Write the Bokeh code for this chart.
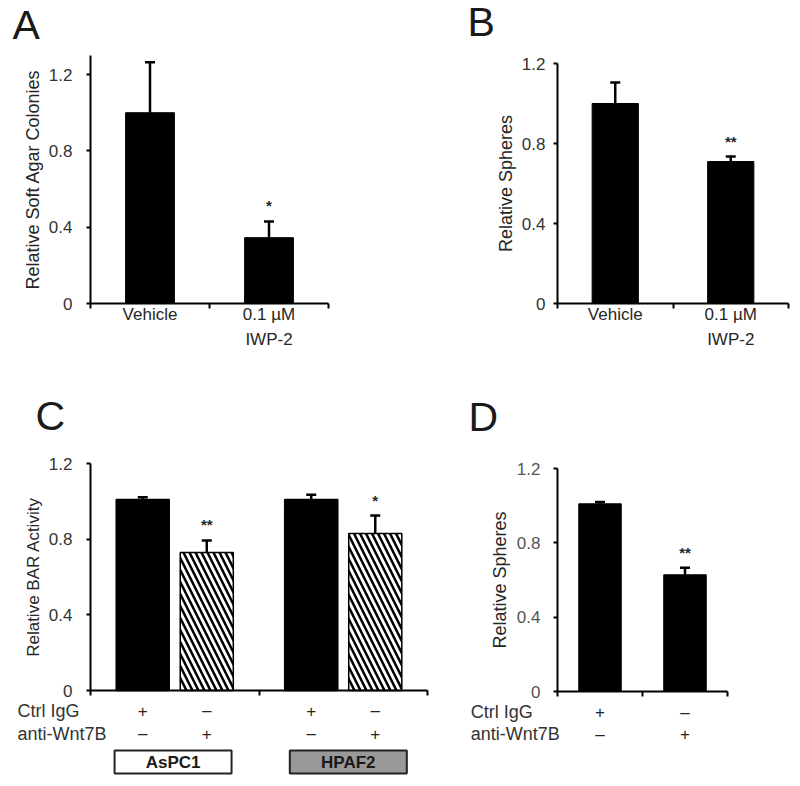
from bokeh.plotting import figure
from bokeh.models import Range1d, FixedTicker, Whisker, ColumnDataSource, Label, LabelSet, TeeHead
from bokeh.core.properties import value
from bokeh.layouts import column, row
from bokeh.embed import file_html
from bokeh.resources import INLINE

FONT = "Liberation Sans"
TXT = "#262626"

# ---------------- data ----------------
y_ticks = [0, 0.4, 0.8, 1.2]
y_tick_labels = ["0", "0.4", "0.8", "1.2"]

# Panel A
a_categories = ["Vehicle", "0.1 µM\nIWP-2"]
a_values = [1.0, 0.345]
a_errors = [0.265, 0.085]
a_sig = ["", "*"]

# Panel B
b_categories = ["Vehicle", "0.1 µM\nIWP-2"]
b_values = [1.0, 0.71]
b_errors = [0.105, 0.025]
b_sig = ["", "**"]

# Panel C
c_cell_lines = ["AsPC1", "HPAF2"]
c_ctrl_igg = ["+", "–", "+", "–"]
c_anti_wnt7b = ["–", "+", "–", "+"]
c_values = [1.01, 0.73, 1.01, 0.83]
c_errors = [0.012, 0.063, 0.025, 0.095]
c_sig = ["", "**", "", "*"]

# Panel D
d_ctrl_igg = ["+", "–"]
d_anti_wnt7b = ["–", "+"]
d_values = [1.01, 0.628]
d_errors = [0.01, 0.038]
d_sig = ["", "**"]


def make_fig(ox, oy, w, h, px0, px1, x_max, py0, py1, y_max):
    """Figure whose frame fills the whole canvas; axes pinned at data 0."""
    sx = (px1 - px0) / x_max
    sy = (py0 - py1) / y_max
    xr = Range1d((ox - px0) / sx, (ox + w - px0) / sx)
    yr = Range1d((py0 - (oy + h)) / sy, (py0 - oy) / sy)
    p = figure(width=w, height=h, x_range=xr, y_range=yr,
               output_backend="svg", toolbar_location=None,
               min_border_left=0, min_border_right=0,
               min_border_top=0, min_border_bottom=0)
    p.grid.visible = False
    p.outline_line_color = None
    p.background_fill_color = "white"
    p.border_fill_color = "white"
    ya = p.yaxis[0]
    ya.fixed_location = 0
    ya.bounds = (0, y_max)
    ya.ticker = FixedTicker(ticks=y_ticks, minor_ticks=[])
    ya.major_label_overrides = dict(zip(y_ticks, y_tick_labels))
    ya.axis_line_width = 2
    ya.major_tick_line_width = 2
    ya.major_tick_out = 4
    ya.major_tick_in = 0
    ya.major_label_text_font = FONT
    ya.major_label_text_font_size = "17px"
    ya.major_label_text_color = "#333333"
    ya.axis_label_text_font = FONT
    ya.axis_label_text_font_style = "normal"
    ya.axis_label_text_color = TXT
    xa = p.xaxis[0]
    xa.fixed_location = 0
    xa.bounds = (0, x_max)
    xa.axis_line_width = 2
    xa.major_tick_line_width = 2
    xa.minor_tick_line_width = 2
    xa.major_label_text_font = FONT
    xa.major_label_text_font_size = "17px"
    xa.major_label_text_color = TXT
    return p


def add_bars(p, xs, vals, errs, sig, width, hatch=None, star_size="15px"):
    src = ColumnDataSource(dict(x=xs, v=vals, top=[v + e for v, e in zip(vals, errs)], sig=sig))
    if hatch is None:
        p.vbar(x="x", top="v", bottom=0, width=width, source=src,
               fill_color="black", line_color="black")
    else:
        src.data["fill"] = ["black" if hh == "" else "white" for hh in hatch]
        src.data["hatch"] = [hh if hh else " " for hh in hatch]
        p.vbar(x="x", top="v", bottom=0, width=width, source=src,
               fill_color="fill", line_color="black", line_width=1.5,
               hatch_pattern="hatch", hatch_color="black", hatch_scale=12, hatch_weight=2.5)
    w = Whisker(base="x", lower="v", upper="top", source=src, line_width=2.5,
                line_color="black", lower_head=None,
                upper_head=TeeHead(size=10, line_width=2.5, line_color="black"))
    p.add_layout(w)
    stars = LabelSet(x="x", y="top", text="sig", source=src, y_offset=10,
                     text_align="center", text_baseline="alphabetic",
                     text_font=value(FONT), text_font_size=value(star_size),
                     text_font_style="bold", text_color=TXT)
    p.add_layout(stars)


def letter(p, x, y, t):
    p.add_layout(Label(x=x, y=y, text=t, text_font=FONT, text_font_size="41px", y_offset=18,
                       text_align="left", text_baseline="alphabetic", text_color="#1a1a1a"))


def category_axis(p, xs, labels, bounds_ticks):
    p.xaxis.ticker = FixedTicker(ticks=xs, minor_ticks=bounds_ticks)
    p.xaxis.major_label_overrides = dict(zip(xs, labels))
    p.xaxis.major_tick_out = 0
    p.xaxis.major_tick_in = 0
    p.xaxis.minor_tick_out = 5
    p.xaxis.minor_tick_in = 0
    p.xaxis.major_label_standoff = -4
    p.xaxis.major_label_text_line_height = 1.32


TOP_H = 385
BOT_H = 393

# ---------------- Panel A ----------------
pa = make_fig(0, 0, 408, TOP_H, 90, 328, 2, 303, 55, 1.3)
a_x = [i + 0.5 for i in range(len(a_values))]
add_bars(pa, a_x, a_values, a_errors, a_sig, 0.41)
pa.yaxis.axis_label = "Relative Soft Agar Colonies"
pa.yaxis.axis_label_text_font_size = "18px"
pa.yaxis.major_label_standoff = 14
pa.yaxis.axis_label_standoff = 3
category_axis(pa, a_x, a_categories, [0, 1, 2])
letter(pa, -0.655, 1.368, "A")

# ---------------- Panel B ----------------
pb = make_fig(408, 0, 384, TOP_H, 557, 788, 2, 303, 63, 1.2)
b_x = [i + 0.5 for i in range(len(b_values))]
add_bars(pb, b_x, b_values, b_errors, b_sig, 0.40)
pb.yaxis.axis_label = "Relative Spheres"
pb.yaxis.axis_label_text_font_size = "18px"
pb.yaxis.major_label_standoff = 8
pb.yaxis.axis_label_standoff = 3
category_axis(pb, b_x, b_categories, [0, 1, 2])
letter(pb, -0.78, 1.32, "B")


def row_labels(p, xs, row1, row2, x_text, y1, y2):
    src = ColumnDataSource(dict(x=xs, r1=row1, r2=row2, y1=[y1] * len(xs), y2=[y2] * len(xs)))
    for yk, tk in (("y1", "r1"), ("y2", "r2")):
        p.add_layout(LabelSet(x="x", y=yk, text=tk, source=src, text_align="center",
                              text_baseline="middle", text_font=value(FONT),
                              text_font_size=value("17px"), text_color=TXT))
    for yy, t in ((y1, "Ctrl IgG"), (y2, "anti-Wnt7B")):
        p.add_layout(Label(x=x_text, y=yy, text=t, text_align="left", text_baseline="middle",
                           text_font=FONT, text_font_size="18px", text_color="#333333"))


def boundary_axis(p, ticks):
    p.xaxis.ticker = FixedTicker(ticks=ticks, minor_ticks=[])
    p.xaxis.major_label_overrides = {t: "" for t in ticks}
    p.xaxis.major_tick_out = 5
    p.xaxis.major_tick_in = 0


# ---------------- Panel C ----------------
pc = make_fig(0, TOP_H, 448, BOT_H, 90, 427, 4, 690, 463, 1.2)
c_groups = [1, 3]
off = 0.38
c_x = [g + d for g in c_groups for d in (-off, off)]
c_hatch = ["", "\\", "", "\\"]
add_bars(pc, c_x, c_values, c_errors, c_sig, 0.63, hatch=c_hatch)
pc.yaxis.axis_label = "Relative BAR Activity"
pc.yaxis.axis_label_text_font_size = "17px"
pc.yaxis.major_label_standoff = 14
pc.yaxis.axis_label_standoff = 3
boundary_axis(pc, [0, 2, 4])
row_labels(pc, c_x, c_ctrl_igg, c_anti_wnt7b, -0.866, -0.106, -0.228)
box_shift = [-0.02, 0.06]
box_src = ColumnDataSource(dict(
    x=[g + s for g, s in zip(c_groups, box_shift)],
    y=[-0.378] * len(c_groups),
    name=c_cell_lines,
    fill=["white", "#999999"],
))
pc.rect(x="x", y="y", width=117, height=23, width_units="screen", height_units="screen",
        source=box_src, fill_color="fill", line_color="#222222", line_width=2)
pc.add_layout(LabelSet(x="x", y="y", text="name", source=box_src, text_align="center",
                       text_baseline="middle", text_font=value(FONT),
                       text_font_size=value("17px"), text_font_style="bold",
                       text_color="#1a1a1a"))
letter(pc, -0.653, 1.358, "C")

# ---------------- Panel D ----------------
pd_ = make_fig(448, TOP_H, 344, BOT_H, 557, 727, 2, 691, 468, 1.2)
d_x = [i + 0.5 for i in range(len(d_values))]
add_bars(pd_, d_x, d_values, d_errors, d_sig, 0.50)
pd_.yaxis.axis_label = "Relative Spheres"
pd_.yaxis.axis_label_text_font_size = "18px"
pd_.yaxis.major_label_standoff = 13
pd_.yaxis.axis_label_standoff = 4
pd_.yaxis.major_label_text_color = "#555555"
boundary_axis(pd_, [0, 1, 2])
row_labels(pd_, d_x, d_ctrl_igg, d_anti_wnt7b, -1.02, -0.113, -0.231)
letter(pd_, -1.047, 1.382, "D")

layout = column(row(pa, pb), row(pc, pd_))
open("out.html", "w").write(file_html(layout, INLINE))
